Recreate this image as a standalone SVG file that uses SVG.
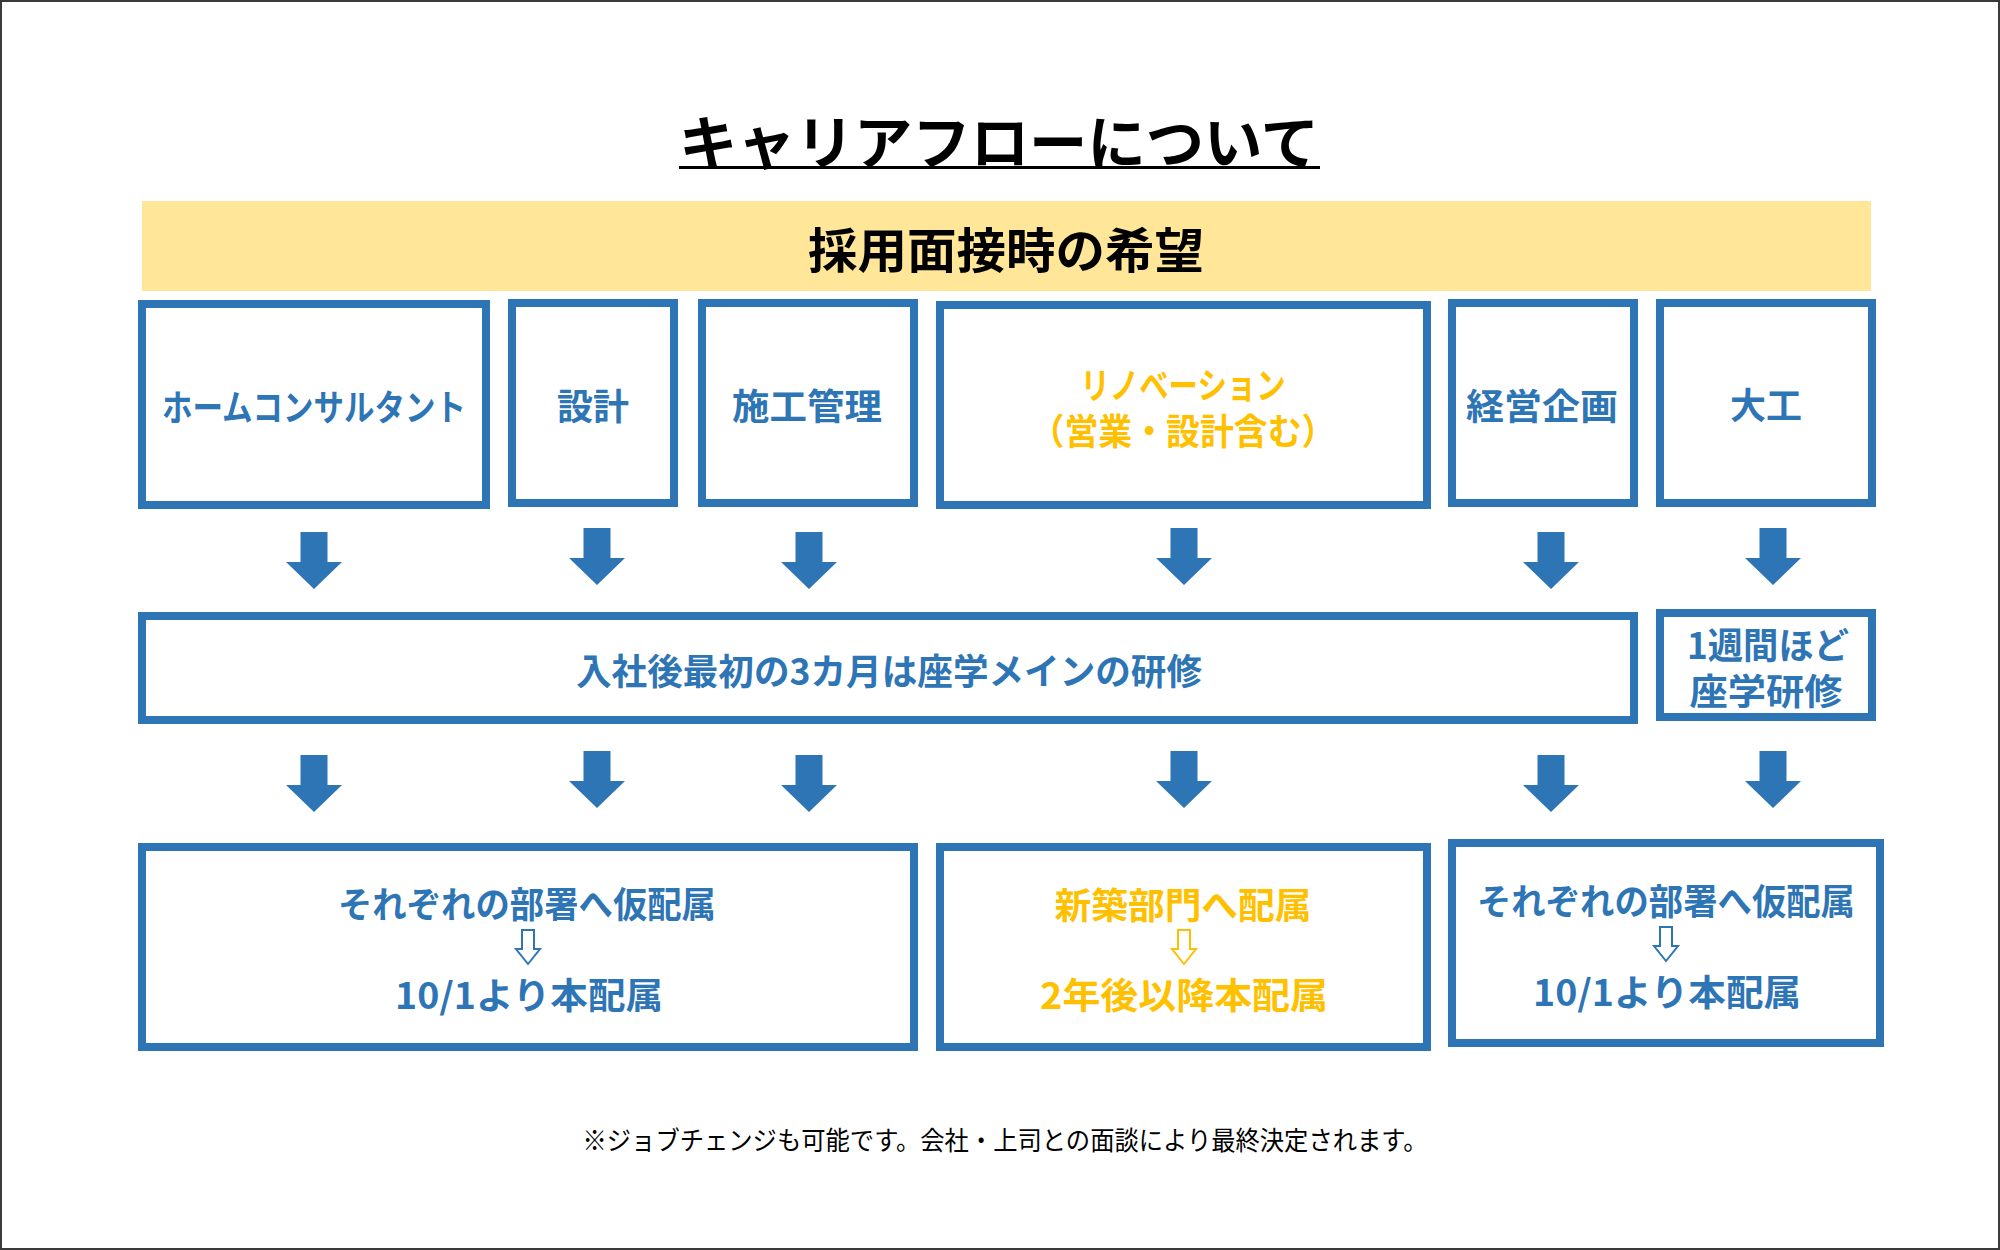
<svg xmlns="http://www.w3.org/2000/svg" xmlns:xlink="http://www.w3.org/1999/xlink" width="2000" height="1250" viewBox="0 0 2000 1250">
<style>
.box{fill:#FFFFFF;stroke:#2E75B6;stroke-width:8}
.t{font-family:"Noto Sans CJK JP","Noto Sans",sans-serif;font-weight:700;text-anchor:middle;dominant-baseline:central}
.blue{fill:#2E75B6;font-size:36px}
.yel{fill:#FFC000;font-size:36px}
.blk{fill:#000000}
.note{font-family:"Noto Sans CJK JP","Noto Sans",sans-serif;font-weight:400;font-size:26px;fill:#000000;text-anchor:middle;dominant-baseline:central}
</style>
<defs>
<path id="bigArrow" d="M-13.5,0 H13.5 V30 H28 L0,57 L-28,30 H-13.5 Z" fill="#2E75B6"/>
<path id="hollowArrow" d="M-6,0 H6 V19 H12 L0,34 L-12,19 H-6 Z" fill="#FFFFFF" stroke-width="2" stroke-linejoin="miter"/>
</defs>
<rect x="0" y="0" width="2000" height="1250" fill="#FFFFFF"/>
<rect x="1" y="1" width="1998" height="1248" fill="none" stroke="#3A3A3A" stroke-width="2"/>

<g id="title">
<text class="t blk" x="999" y="139" font-size="58" textLength="640" lengthAdjust="spacingAndGlyphs">キャリアフローについて</text>
<rect x="679" y="166" width="641" height="3" fill="#000000"/>
</g>

<g id="header">
<rect x="142" y="201" width="1729" height="90" fill="#FFE699"/>
<text class="t blk" x="1006" y="247" font-size="48" textLength="396" lengthAdjust="spacingAndGlyphs">採用面接時の希望</text>
</g>

<g id="node-home">
<rect class="box" x="142" y="304" width="344" height="201"/>
<text class="t blue" x="314" y="405" textLength="304" lengthAdjust="spacingAndGlyphs">ホームコンサルタント</text>
</g>
<g id="node-sekkei">
<rect class="box" x="512" y="303" width="162" height="200"/>
<text class="t blue" x="593" y="404">設計</text>
</g>
<g id="node-sekou">
<rect class="box" x="702" y="303" width="212" height="200"/>
<text class="t blue" x="807" y="404" textLength="150" lengthAdjust="spacingAndGlyphs">施工管理</text>
</g>
<g id="node-renovation">
<rect class="box" x="940" y="305" width="487" height="200"/>
<text class="t yel" x="1183" y="383" textLength="205" lengthAdjust="spacingAndGlyphs">リノベーション</text>
<text class="t yel" x="1183" y="429" textLength="305" lengthAdjust="spacingAndGlyphs">（営業・設計含む）</text>
</g>
<g id="node-keiei">
<rect class="box" x="1452" y="303" width="182" height="200"/>
<text class="t blue" x="1542" y="404" textLength="152" lengthAdjust="spacingAndGlyphs">経営企画</text>
</g>
<g id="node-daiku">
<rect class="box" x="1660" y="303" width="212" height="200"/>
<text class="t blue" x="1766" y="403">大工</text>
</g>

<g id="node-training">
<rect class="box" x="142" y="616" width="1492" height="104"/>
<text class="t blue" x="889" y="669" textLength="626" lengthAdjust="spacingAndGlyphs">入社後最初の3カ月は座学メインの研修</text>
</g>
<g id="node-training-daiku">
<rect class="box" x="1660" y="613" width="212" height="104"/>
<text class="t blue" x="1768" y="643" textLength="162" lengthAdjust="spacingAndGlyphs">1週間ほど</text>
<text class="t blue" x="1766" y="689" textLength="153" lengthAdjust="spacingAndGlyphs">座学研修</text>
</g>

<g id="node-assign-a">
<rect class="box" x="142" y="847" width="772" height="200"/>
<text class="t blue" x="527" y="902" textLength="378" lengthAdjust="spacingAndGlyphs">それぞれの部署へ仮配属</text>
<use xlink:href="#hollowArrow" x="528" y="930" stroke="#2E75B6"/>
<text class="t blue" x="529" y="993" textLength="268" lengthAdjust="spacingAndGlyphs">10/1より本配属</text>
</g>
<g id="node-assign-b">
<rect class="box" x="940" y="847" width="487" height="200"/>
<text class="t yel" x="1183" y="903" textLength="257" lengthAdjust="spacingAndGlyphs">新築部門へ配属</text>
<use xlink:href="#hollowArrow" x="1184" y="930" stroke="#FFC000"/>
<text class="t yel" x="1184" y="993" textLength="288" lengthAdjust="spacingAndGlyphs">2年後以降本配属</text>
</g>
<g id="node-assign-c">
<rect class="box" x="1452" y="843" width="428" height="200"/>
<text class="t blue" x="1666" y="899" textLength="378" lengthAdjust="spacingAndGlyphs">それぞれの部署へ仮配属</text>
<use xlink:href="#hollowArrow" x="1666" y="927" stroke="#2E75B6"/>
<text class="t blue" x="1667" y="990" textLength="268" lengthAdjust="spacingAndGlyphs">10/1より本配属</text>
</g>

<g id="connectors">
<use xlink:href="#bigArrow" x="314" y="532"/>
<use xlink:href="#bigArrow" x="597" y="528"/>
<use xlink:href="#bigArrow" x="809" y="532"/>
<use xlink:href="#bigArrow" x="1184" y="528"/>
<use xlink:href="#bigArrow" x="1551" y="532"/>
<use xlink:href="#bigArrow" x="1773" y="528"/>
<use xlink:href="#bigArrow" x="314" y="755"/>
<use xlink:href="#bigArrow" x="597" y="751"/>
<use xlink:href="#bigArrow" x="809" y="755"/>
<use xlink:href="#bigArrow" x="1184" y="751"/>
<use xlink:href="#bigArrow" x="1551" y="755"/>
<use xlink:href="#bigArrow" x="1773" y="751"/>
</g>

<g id="footnote">
<text class="note" x="1005" y="1138" textLength="845" lengthAdjust="spacingAndGlyphs">※ジョブチェンジも可能です。会社・上司との面談により最終決定されます。</text>
</g>
</svg>
